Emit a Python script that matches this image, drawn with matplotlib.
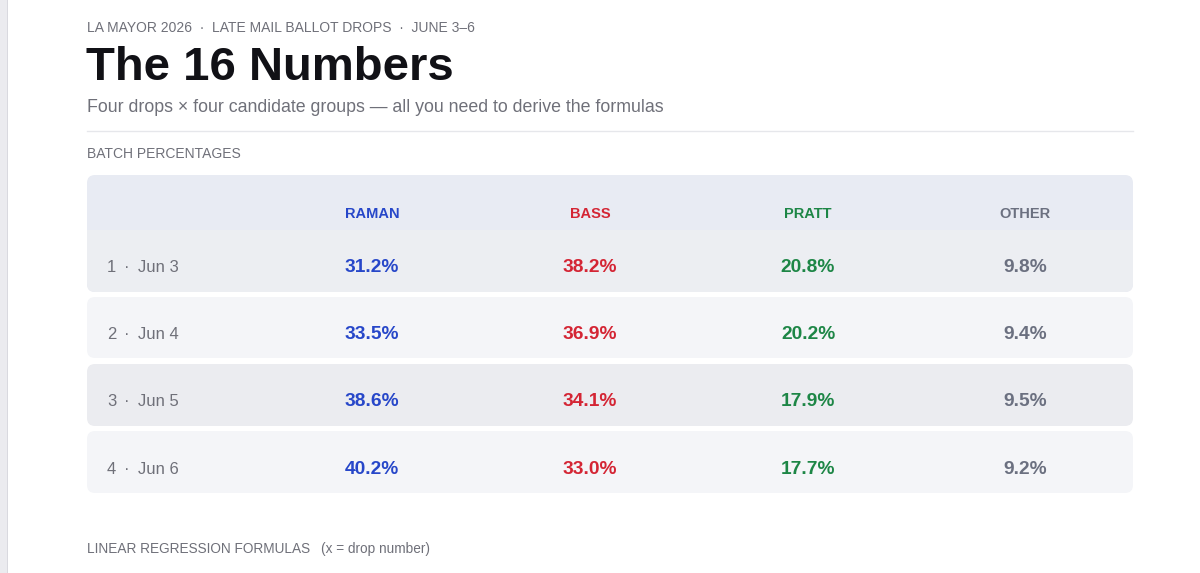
import matplotlib
matplotlib.use('Agg')
import matplotlib.pyplot as plt
from matplotlib.patches import FancyBboxPatch, Rectangle

plt.rcParams['font.family'] = ['Liberation Sans', 'DejaVu Sans']

# Data
kicker = "LA MAYOR 2026  ·  LATE MAIL BALLOT DROPS  ·  JUNE 3–6"
title = "The 16 Numbers"
subtitle = "Four drops × four candidate groups — all you need to derive the formulas"
section_1 = "BATCH PERCENTAGES"
section_2 = "LINEAR REGRESSION FORMULAS"
section_2_note = "(x = drop number)"

candidates = ['RAMAN', 'BASS', 'PRATT', 'OTHER']
drop_numbers = [1, 2, 3, 4]
drop_dates = ['Jun 3', 'Jun 4', 'Jun 5', 'Jun 6']
raman = [31.2, 33.5, 38.6, 40.2]
bass = [38.2, 36.9, 34.1, 33.0]
pratt = [20.8, 20.2, 17.9, 17.7]
other = [9.8, 9.4, 9.5, 9.2]

# Styles
cand_colors = ['#2747c9', '#d42534', '#1d8646', '#6b7080']
gray = '#6f7079'
row_colors = ['#eceef2', '#f4f5f8', '#ebecf0', '#f4f5f8']
header_color = '#e8ebf3'

W, H = 1200, 573
fig = plt.figure(figsize=(W / 100, H / 100), dpi=100)
ax = fig.add_axes([0, 0, 1, 1])
ax.set_xlim(0, W)
ax.set_ylim(H, 0)
ax.axis('off')

# left page edge
ax.add_patch(Rectangle((0, 0), 7, H, color='#ebebef', lw=0))
ax.add_patch(Rectangle((7, 0), 1.2, H, color='#d9d9df', lw=0))

left, right = 87, 1133
ax.text(left, 28, kicker, fontsize=10, color=gray, va='center', ha='left')
ax.text(left - 1, 68, title, fontsize=34, fontweight='bold', color='#111116',
        va='center', ha='left')
ax.text(left, 107, subtitle, fontsize=12.8, color=gray, va='center', ha='left')
ax.plot([left, right], [131, 131], color='#e6e7eb', lw=1)
ax.text(left, 154, section_1, fontsize=10, color=gray, va='center', ha='left')

# table
col_x = [372, 590, 808, 1025]
row_tops = [230, 297, 364, 431]
row_h = [62, 61, 62, 62]
rad = 8

# header block (joined with row 1)
ax.add_patch(FancyBboxPatch((left, 175), right - left, row_tops[0] + row_h[0] - 175,
                            boxstyle=f"round,pad=0,rounding_size={rad}",
                            fc=header_color, ec='none'))
for i, top in enumerate(row_tops):
    ax.add_patch(FancyBboxPatch((left, top), right - left, row_h[i],
                                boxstyle=f"round,pad=0,rounding_size={rad}",
                                fc=row_colors[i], ec='none'))
ax.add_patch(Rectangle((left, row_tops[0]), right - left, 20, fc=row_colors[0], ec='none'))

for name, x, c in zip(candidates, col_x, cand_colors):
    ax.text(x, 214, name, fontsize=10.5, fontweight='bold', color=c,
            ha='center', va='center')

series = [raman, bass, pratt, other]
for i, (n, d) in enumerate(zip(drop_numbers, drop_dates)):
    y = row_tops[i] + row_h[i] / 2 + 7
    ax.text(107, y, str(n), fontsize=12, color=gray, ha='left', va='center')
    ax.text(127, y, '·', fontsize=12, color=gray, ha='center', va='center')
    ax.text(138, y, d, fontsize=12, color=gray, ha='left', va='center')
    for vals, x, c in zip(series, col_x, cand_colors):
        ax.text(x, y, f"{vals[i]:.1f}%", fontsize=13.8, fontweight='bold',
                color=c, ha='center', va='center')

ax.text(left, 549, section_2, fontsize=9.8, color=gray, va='center', ha='left')
ax.text(321, 549, section_2_note, fontsize=9.8, color=gray, va='center', ha='left')

fig.savefig('out.png', dpi=100, facecolor='white')
